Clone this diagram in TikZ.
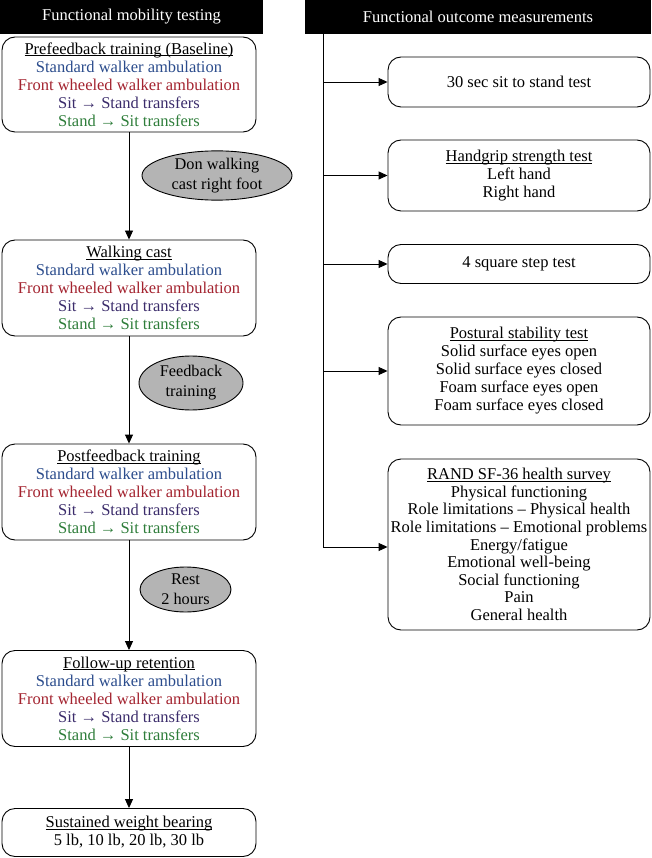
\documentclass[tikz,border=0pt]{standalone}
\usepackage{fontspec}
\setmainfont{Liberation Serif}
\usetikzlibrary{shapes.geometric,arrows.meta}
\definecolor{cblue}{HTML}{2B4C8C}
\definecolor{cred}{HTML}{A3232F}
\definecolor{cpurp}{HTML}{3B2C6B}
\definecolor{cgreen}{HTML}{2E7D3A}
\definecolor{cgray}{HTML}{B4B4B4}
\newcommand\ulin[1]{\underline{\smash{#1}}\vphantom{#1}}
\begin{document}
\begin{tikzpicture}[x=1pt,y=-1pt,
  box/.style={draw, rounded corners=13pt, line width=0.9pt, align=center, inner sep=0pt,
    font=\fontsize{16.5}{18}\selectfont},
  oval/.style={ellipse, draw, fill=cgray, line width=0.9pt, align=center, inner sep=0pt,
    font=\fontsize{16.3}{20}\selectfont},
  hdr/.style={fill=black, text=white, inner sep=0pt, font=\fontsize{16.5}{18}\selectfont},
  arr/.style={-{Triangle[length=9pt,width=8pt]}, line width=0.9pt},
  ln/.style={line width=0.9pt}]
\useasboundingbox (0,0) rectangle (651,858);

% headers
\node[hdr, minimum width=263pt, minimum height=34pt] (lh) at (131.5,17) {Functional mobility testing};
\node[hdr, minimum width=346pt, minimum height=34pt] (rh) at (478,17) {Functional outcome measurements};

% left column boxes
\node[box, minimum width=254pt, minimum height=95pt] (b1) at (129,84.5) {\ulin{Prefeedback training (Baseline)}\\
  \textcolor{cblue}{Standard walker ambulation}\\
  \textcolor{cred}{Front wheeled walker ambulation}\\
  \textcolor{cpurp}{Sit → Stand transfers}\\
  \textcolor{cgreen}{Stand → Sit transfers}};
\node[box, minimum width=254pt, minimum height=96pt] (b2) at (129,288) {\ulin{Walking cast}\\
  \textcolor{cblue}{Standard walker ambulation}\\
  \textcolor{cred}{Front wheeled walker ambulation}\\
  \textcolor{cpurp}{Sit → Stand transfers}\\
  \textcolor{cgreen}{Stand → Sit transfers}};
\node[box, minimum width=254pt, minimum height=96pt] (b3) at (129,492) {\ulin{Postfeedback training}\\
  \textcolor{cblue}{Standard walker ambulation}\\
  \textcolor{cred}{Front wheeled walker ambulation}\\
  \textcolor{cpurp}{Sit → Stand transfers}\\
  \textcolor{cgreen}{Stand → Sit transfers}};
\node[box, minimum width=254pt, minimum height=96pt] (b4) at (129,698.5) {\ulin{Follow-up retention}\\
  \textcolor{cblue}{Standard walker ambulation}\\
  \textcolor{cred}{Front wheeled walker ambulation}\\
  \textcolor{cpurp}{Sit → Stand transfers}\\
  \textcolor{cgreen}{Stand → Sit transfers}};
\node[box, minimum width=254pt, minimum height=48pt] (b5) at (129,832.5) {\ulin{Sustained weight bearing}\\
  5 lb, 10 lb, 20 lb, 30 lb};

% ovals
\node[oval, minimum width=150pt, minimum height=43pt] (e1) at (217,175.5) {Don walking\\cast right foot};
\node[oval, minimum width=104pt, minimum height=54pt] (e2) at (191,383) {Feedback\\training};
\node[oval, minimum width=91pt, minimum height=45pt] (e3) at (185.5,589.5) {Rest\\2 hours};

% left arrows
\draw[arr] (b1.south) -- (b2.north);
\draw[arr] (b2.south) -- (b3.north);
\draw[arr] (b3.south) -- (b4.north);
\draw[arr] (b4.south) -- (b5.north);

% right column boxes
\node[box, minimum width=262pt, minimum height=50pt] (t1) at (519,82) {30 sec sit to stand test};
\node[box, minimum width=262pt, minimum height=71pt] (t2) at (519,175.5) {\ulin{Handgrip strength test}\\Left hand\\Right hand};
\node[box, minimum width=262pt, minimum height=39pt] (t3) at (519,264) {4 square step test};
\node[box, minimum width=262pt, minimum height=108pt] (t4) at (519,371) {\ulin{Postural stability test}\\
  Solid surface eyes open\\Solid surface eyes closed\\Foam surface eyes open\\Foam surface eyes closed};
\node[box, minimum width=262pt, minimum height=171pt, font=\fontsize{16.5}{17.6}\selectfont] (t5) at (519,544.5) {\ulin{RAND SF-36 health survey}\\
  Physical functioning\\Role limitations – Physical health\\Role limitations – Emotional problems\\
  Energy/fatigue\\Emotional well-being\\Social functioning\\Pain\\General health};

% trunk
\coordinate (vtop) at (323,34);
\coordinate (vbot) at (323,547);
\draw[ln] (vtop) -- (vbot);
\draw[arr] (vtop |- t1.west) -- (t1.west);
\draw[arr] (vtop |- t2.west) -- (t2.west);
\draw[arr] (vtop |- t3.west) -- (t3.west);
\draw[arr] (vtop |- t4.west) -- (t4.west);
\draw[arr] (vbot) -- (vbot -| t5.west);
\end{tikzpicture}
\end{document}
